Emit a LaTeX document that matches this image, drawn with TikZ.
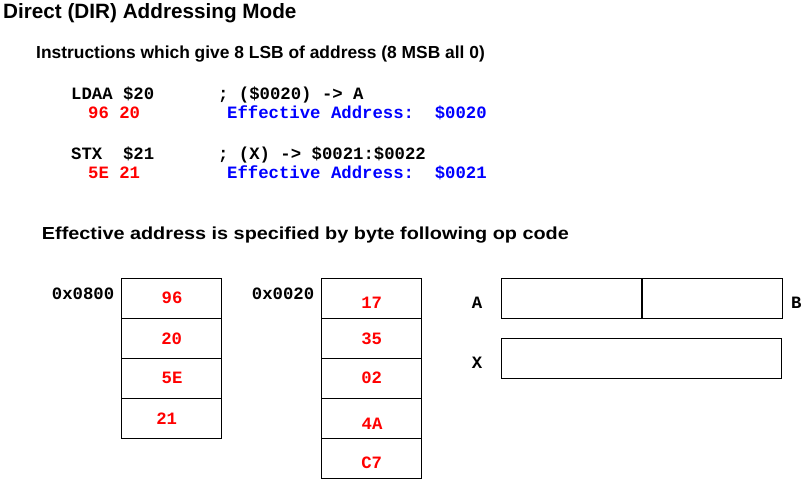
\documentclass[tikz,border=0pt]{standalone}
\usepackage{fontspec}
\setmainfont{Liberation Sans}
\newfontfamily\codefont{Liberation Mono}
\usetikzlibrary{positioning}

\tikzset{
  head/.style={font=\bfseries\fontsize{17.4}{17.4}\selectfont, inner sep=0pt, anchor=base west},
  code/.style={font=\codefont\bfseries\fontsize{17.3}{17.3}\selectfont, inner sep=0pt, anchor=base west},
  opbyte/.style={code, text=red},
  ea/.style={code, text=blue},
  val/.style={code, text=red, anchor=base},
  cell/.style={draw, line width=1pt, minimum width=100pt, minimum height=40pt, inner sep=0pt}
}

\begin{document}
\begin{tikzpicture}[x=1pt, y=-1pt]
\useasboundingbox (0,0) rectangle (801,480);

% headings
\node[head, font=\bfseries\fontsize{20.7}{20.7}\selectfont] (title) at (3,18.5) {Direct (DIR) Addressing Mode};
\node[head] (sub) at (36,58.3) {Instructions which give 8 LSB of address (8 MSB all 0)};
\node[head, xscale=1.14] (note) at (41.7,239) {Effective address is specified by byte following op code};

% instructions
\node[code] (ldaa) at (71,99) {LDAA \$20};
\node[code] (ldaac) at (218,99) {; (\$0020) -> A};
\node[opbyte] (ldaab) at (88,118.5) {96 20};
\node[ea] (ldaae) at (227,118.5) {Effective Address:\ \ \$0020};
\node[code] (stx) at (71,159) {STX\ \ \$21};
\node[code] (stxc) at (218,159) {; (X) -> \$0021:\$0022};
\node[opbyte] (stxb) at (88,178.5) {5E 21};
\node[ea] (stxe) at (227,178.5) {Effective Address:\ \ \$0021};

% program memory
\node[code] (pa) at (51.7,299) {0x0800};
\foreach \i in {0,...,3}
  \node[cell] (p\i) at (171.7,298.3+40*\i) {};
\node[val] (pv0) at (172,303) {96};
\node[val] (pv1) at (171.7,344) {20};
\node[val] (pv2) at (172,383) {5E};
\node[val] (pv3) at (166.7,424) {21};

% data memory
\node[code] (da) at (251.7,299) {0x0020};
\foreach \i in {0,...,4}
  \node[cell] (d\i) at (371.7,298.3+40*\i) {};
\node[val] (dv0) at (371.7,308) {17};
\node[val] (dv1) at (371.7,344) {35};
\node[val] (dv2) at (371.7,383) {02};
\node[val] (dv3) at (372,429) {4A};
\node[val] (dv4) at (371.7,468) {C7};

% registers
\node[cell, minimum width=140pt] (ra) at (571.7,298.3) {};
\node[cell, minimum width=140pt, right=0pt of ra] (rb) {};
\node[cell, minimum width=280pt] (rx) at (641.7,358.3) {};
\node[code] (la) at (471.7,308) {A};
\node[code] (lb) at (791,308) {B};
\node[code] (lx) at (471.7,368) {X};
\end{tikzpicture}
\end{document}
